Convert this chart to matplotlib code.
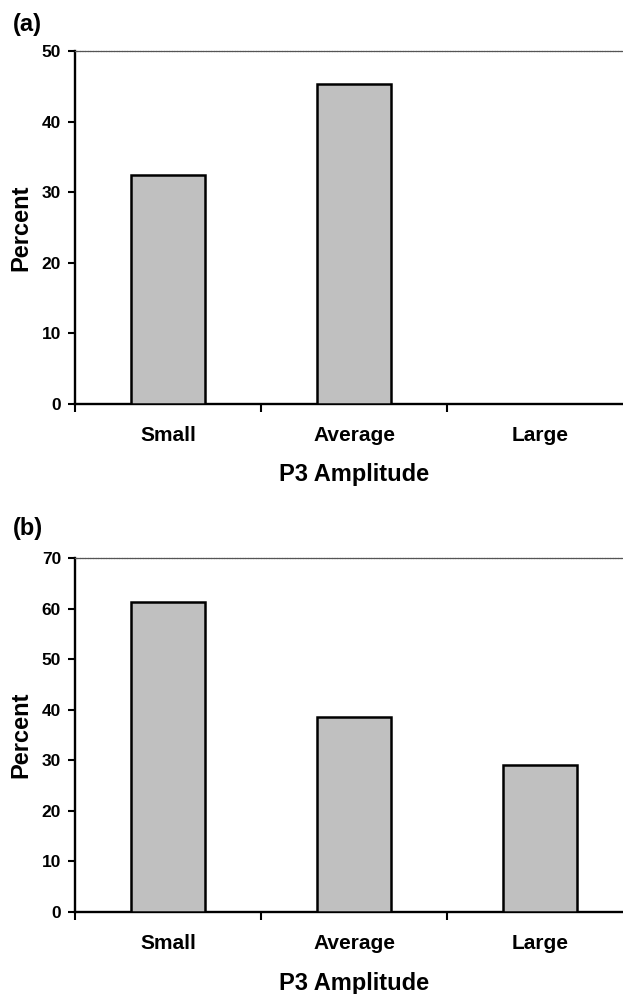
import matplotlib
matplotlib.use('Agg')
import matplotlib.pyplot as plt
from matplotlib.ticker import FixedLocator

plt.rcParams['font.family'] = ['Liberation Sans', 'DejaVu Sans']
plt.rcParams['font.weight'] = 'bold'

# ─── data ───
categories = ['Small', 'Average', 'Large']
values_a = [32.4, 45.3, 0.0]
values_b = [61.3, 38.6, 29.0]
ymax_a, ystep_a = 50, 10
ymax_b, ystep_b = 70, 10

W, H = 623, 994
BAR_GRAY = '#c0c0c0'


def _panel(fig, rect, values, ymax, ystep):
    ax = fig.add_axes(rect)
    x = list(range(len(categories)))
    ax.bar(x, values, width=0.40, color=BAR_GRAY,
           edgecolor='black', linewidth=1.8, zorder=3)

    ax.set_ylim(0, ymax)
    # right side of the plot area is cut off in the original
    ax.set_xlim(-0.5, len(categories) - 0.5 - 10 / 186)

    ax.set_yticks(range(0, ymax + 1, ystep))
    ax.tick_params(axis='y', length=5, width=1.5, pad=5, labelsize=12.5)

    # category labels in the middle, tick marks on the boundaries
    ax.set_xticks(x)
    ax.set_xticklabels(categories)
    ax.tick_params(axis='x', which='major', length=0, pad=16, labelsize=15)
    ax.xaxis.set_minor_locator(FixedLocator([-0.5, 0.5, 1.5]))
    ax.tick_params(axis='x', which='minor', length=6, width=1.5, direction='out')

    for s in ('left', 'bottom'):
        ax.spines[s].set_linewidth(1.7)
    ax.spines['right'].set_visible(False)
    ax.spines['top'].set_linewidth(0.9)
    ax.spines['top'].set_color('#555555')
    ax.spines['top'].set_linestyle((0, (1.5, 0.6)))

    ax.set_ylabel('Percent', fontsize=17, fontweight='bold')
    ax.yaxis.set_label_coords(-0.077, 0.5)
    ax.set_xlabel('P3 Amplitude', fontsize=17, fontweight='bold', va='center')
    ax.xaxis.set_label_coords(0.509, -0.201)
    return ax


fig = plt.figure(figsize=(W / 100, H / 100), dpi=100)
left = 75 / W
width = 1 - left

ax_a = _panel(fig, [left, 1 - 404 / H, width, 353 / H], values_a,
              ymax_a, ystep_a)
ax_b = _panel(fig, [left, 1 - 912 / H, width, 354 / H], values_b,
              ymax_b, ystep_b)

# panel tags
fig.text(13 / W, 1 - 25 / H, '(a)', fontsize=17, fontweight='bold',
         ha='left', va='center')
fig.text(13 / W, 1 - 529 / H, '(b)', fontsize=17, fontweight='bold',
         ha='left', va='center')

fig.savefig('out.png', dpi=100, facecolor='white')
